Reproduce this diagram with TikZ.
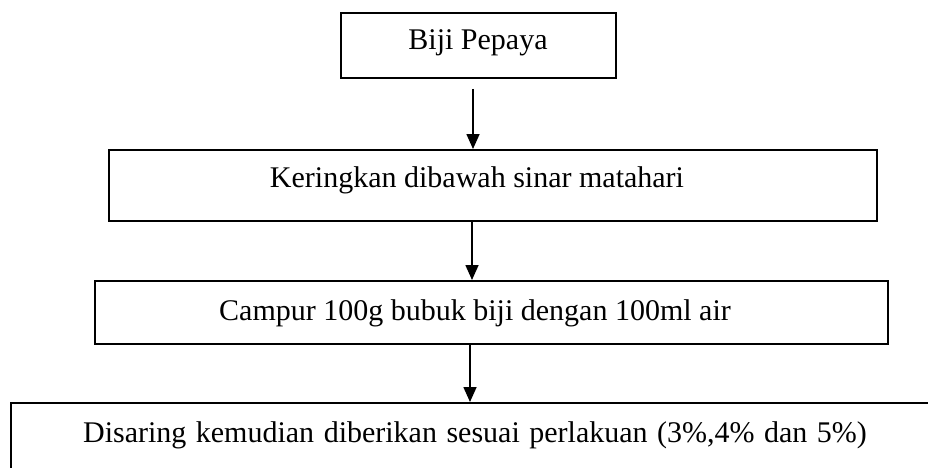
\documentclass[tikz,border=0pt]{standalone}
\usepackage{fontspec}
\setmainfont{Liberation Serif}
\usetikzlibrary{arrows.meta}
\begin{document}
\begin{tikzpicture}[x=1pt,y=-1pt,
  stepbox/.style={draw=black,line width=1.6pt,inner sep=0pt,anchor=north west},
  lab/.style={inner sep=0pt,font=\fontsize{30}{36}\selectfont},
  arr/.style={line width=1.6pt,-{Triangle[length=15pt,width=13pt]}}]
\useasboundingbox (0,0) rectangle (928,468);
\clip (0,0) rectangle (928,468);
\node[stepbox,minimum width=275pt,minimum height=65pt] (b1) at (340,12) {};
\node[stepbox,minimum width=768pt,minimum height=71pt] (b2) at (108,149) {};
\node[stepbox,minimum width=793pt,minimum height=63pt] (b3) at (94,280) {};
\node[stepbox,minimum width=940pt,minimum height=80pt] (b4) at (10,402) {};
\node[lab,anchor=base] (t1) at (478,50) {Biji Pepaya};
\node[lab,anchor=base] (t2) at (477,187) {Keringkan dibawah sinar matahari};
\node[lab,anchor=base] (t3) at (475,320) {Campur 100g bubuk biji dengan 100ml air};
\node[lab,anchor=base] (t4) at (475,442) {\spaceskip=9.5pt plus 1pt Disaring kemudian diberikan sesuai perlakuan (3\%,4\% dan 5\%)};
\coordinate (a1) at (473,89);
\draw[arr] (a1) -- (a1 |- b2.north);
\draw[arr] (b2.south -| 472,0) -- (b3.north -| 472,0);
\draw[arr] (b3.south -| 470,0) -- (b4.north -| 470,0);
\end{tikzpicture}
\end{document}
